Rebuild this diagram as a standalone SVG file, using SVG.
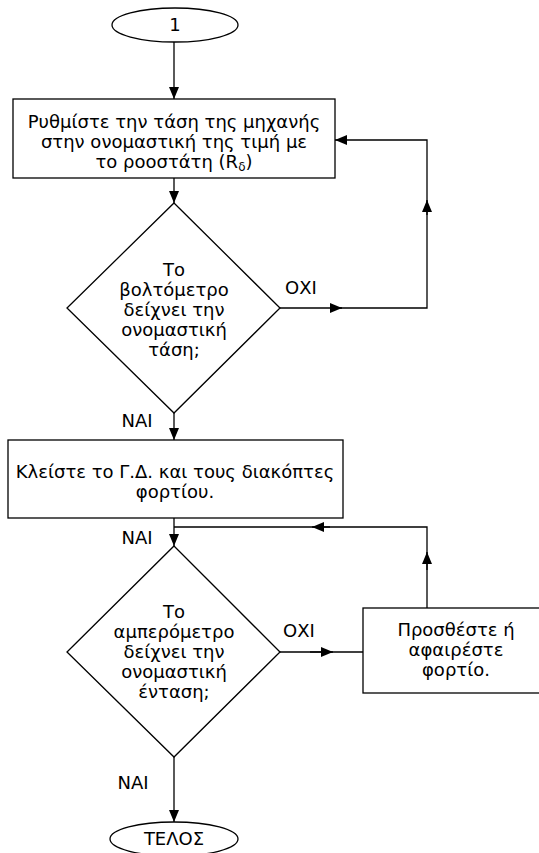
<svg xmlns="http://www.w3.org/2000/svg" width="539" height="853" viewBox="0 0 539 853">
<style>
.s{fill:#fff;stroke:#000;stroke-width:1.3}
.c{fill:none;stroke:#000;stroke-width:1.3}
text{font-family:"DejaVu Sans","Liberation Sans",sans-serif;font-size:18px;fill:#000;text-anchor:middle}
</style>
<defs>
<marker id="a" markerWidth="12" markerHeight="10" refX="12" refY="5" orient="auto" markerUnits="userSpaceOnUse">
<path d="M0,0 L12,5 L0,10 Z" fill="#000"/>
</marker>
</defs>
<rect width="539" height="853" fill="#fff"/>
<g id="connectors">
<line class="c" x1="174" y1="40" x2="174" y2="99" marker-end="url(#a)"/>
<line class="c" x1="174" y1="178" x2="174" y2="203" marker-end="url(#a)"/>
<path class="c" d="M280,308 H342" marker-end="url(#a)"/>
<path class="c" d="M336,308 H427 V202"/>
<path class="c" d="M427,212 V140 H335" marker-end="url(#a)"/>
<path class="c" d="M427,215 V200" marker-end="url(#a)"/>
<line class="c" x1="174" y1="413" x2="174" y2="440" marker-end="url(#a)"/>
<line class="c" x1="174" y1="518" x2="174" y2="546" marker-end="url(#a)"/>
<path class="c" d="M427,608 V527 H174"/>
<path class="c" d="M427,570 V552" marker-end="url(#a)"/>
<path class="c" d="M330,527 H312" marker-end="url(#a)"/>
<path class="c" d="M280,652 H363"/>
<path class="c" d="M310,652 H333" marker-end="url(#a)"/>
<line class="c" x1="174" y1="757" x2="174" y2="822" marker-end="url(#a)"/>
<text x="301" y="294">ΟΧΙ</text>
<text x="137" y="427">ΝΑΙ</text>
<text x="137" y="544">ΝΑΙ</text>
<text x="299" y="637">ΟΧΙ</text>
<text x="133" y="789">ΝΑΙ</text>
</g>
<g id="start">
<ellipse class="s" cx="175" cy="25" rx="63" ry="17"/>
<text x="175" y="31">1</text>
</g>
<g id="box1">
<rect class="s" x="13" y="99" width="322" height="79"/>
<text x="174" y="128">Ρυθμίστε την τάση της μηχανής</text>
<text x="174" y="148">στην ονομαστική της τιμή με</text>
<text x="174" y="168">το ροοστάτη (R<tspan font-size="12" dy="3">δ</tspan><tspan dy="-3">)</tspan></text>
</g>
<g id="dec1">
<polygon class="s" points="174,203 280,308 174,413 67,308"/>
<text x="174" y="276">Το</text>
<text x="174" y="296">βολτόμετρο</text>
<text x="174" y="316">δείχνει την</text>
<text x="174" y="336">ονομαστική</text>
<text x="174" y="356">τάση;</text>
</g>
<g id="box2">
<rect class="s" x="8" y="440" width="335" height="78"/>
<text x="175" y="478">Κλείστε το Γ.Δ. και τους διακόπτες</text>
<text x="175" y="498">φορτίου.</text>
</g>
<g id="dec2">
<polygon class="s" points="174,546 280,652 174,757 67,652"/>
<text x="174" y="618">Το</text>
<text x="174" y="638">αμπερόμετρο</text>
<text x="174" y="658">δείχνει την</text>
<text x="174" y="678">ονομαστική</text>
<text x="174" y="698">ένταση;</text>
</g>
<g id="box3">
<rect class="s" x="363" y="608" width="190" height="85"/>
<text x="456" y="636">Προσθέστε ή</text>
<text x="456" y="656">αφαιρέστε</text>
<text x="456" y="676">φορτίο.</text>
</g>
<g id="end">
<ellipse class="s" cx="174" cy="839" rx="64" ry="17"/>
<text x="174" y="845">ΤΕΛΟΣ</text>
</g>
</svg>
